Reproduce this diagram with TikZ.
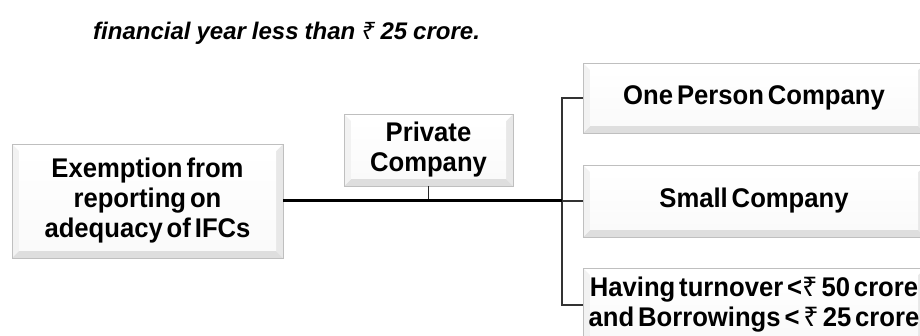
\documentclass[tikz,border=0pt]{standalone}
\usepackage{fontspec}
\setmainfont{Liberation Sans}
\newfontfamily\boxfont{Liberation Sans}[FakeStretch=0.95, WordSpace=0.55]
\newfontfamily\headfont{Liberation Sans}[WordSpace=0.9]
\newfontfamily\rupeefont{Noto Sans}
\newcommand{\rs}{{\rupeefont\bfseries ₹}}
\usetikzlibrary{calc}

\tikzset{
  bevel/.style={
    draw=gray!50, line width=0.8pt, rectangle, inner sep=0pt,
    font=\boxfont\bfseries\fontsize{27}{30}\selectfont, align=center,
    path picture={
      \coordinate (bSW) at (path picture bounding box.south west);
      \coordinate (bNE) at (path picture bounding box.north east);
      \coordinate (bNW) at (path picture bounding box.north west);
      \coordinate (bSE) at (path picture bounding box.south east);
      \fill[gray!6] (bSW) rectangle (bNE);
      % bevel faces
      \fill[gray!26] (bSW) -- ($(bSW)+(7,-7)$) -- ($(bSE)+(-7,-7)$) -- (bSE) -- cycle;
      \fill[gray!18] (bSE) -- ($(bSE)+(-7,-7)$) -- ($(bNE)+(-7,7)$) -- (bNE) -- cycle;
      \fill[gray!10] (bSW) -- ($(bSW)+(7,-7)$) -- ($(bNW)+(7,7)$) -- (bNW) -- cycle;
      \fill[white] (bNW) -- ($(bNW)+(7,7)$) -- ($(bNE)+(-7,7)$) -- (bNE) -- cycle;
      \shade[top color=white, bottom color=gray!4]
        ($(bSW)+(7,-7)$) rectangle ($(bNE)+(-7,7)$);
    }},
  trunk/.style={line width=3pt, black},
  branch/.style={line width=1.6pt, black!80},
  stem/.style={line width=1.2pt, black!85}
}

\begin{document}
\begin{tikzpicture}[x=1pt, y=-1pt]
  \useasboundingbox (0,0) rectangle (920,336);
  \clip (0,0) rectangle (920,336);

  % caption line carried over from the preceding text
  \node[anchor=base west, inner sep=0pt,
        font=\headfont\bfseries\itshape\fontsize{24}{28}\selectfont]
    (head) at (93,40) {financial year less than \rs{} 25 crore.};

  % boxes
  \node[bevel, minimum width=271pt, minimum height=114pt] (ex) at (147.5,201)
    {Exemption from\\reporting on\\adequacy of IFCs};
  \node[bevel, minimum width=169pt, minimum height=72pt] (pc) at (428.5,150)
    {Private\\Company};
  \node[bevel, minimum width=342pt, minimum height=70pt] (op) at (754,98)
    {One Person Company};
  \node[bevel, minimum width=342pt, minimum height=72pt] (sc) at (754,201)
    {Small Company};
  \node[bevel, minimum width=342pt, minimum height=74pt] (hv) at (754,305)
    {Having turnover <\rs{} 50 crore\\and Borrowings < \rs{} 25 crore};

  % connectors
  \coordinate (bus) at (562,201);
  \draw[stem] (pc.south) -- (pc.south |- bus);
  \draw[branch] (op.west) -- (op.west -| bus) -- (hv.west -| bus) -- (hv.west);
  \draw[branch] (bus) -- (sc.west);
  \draw[trunk] (ex.east) -- (bus);
\end{tikzpicture}
\end{document}
